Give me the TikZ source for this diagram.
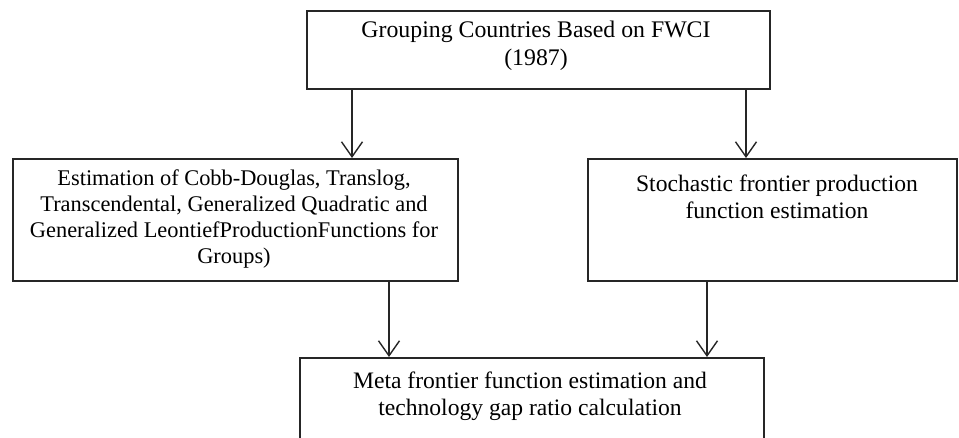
\documentclass[tikz,border=0pt]{standalone}
\usepackage{fontspec}
\setmainfont{Liberation Serif}
\usetikzlibrary{arrows.meta}
\begin{document}
\begin{tikzpicture}[x=1pt,y=-1pt,
  box/.style={draw=black!85,line width=1.6pt,rectangle,inner sep=0pt,anchor=north west},
  caption/.style={align=center,inner sep=0pt,anchor=base,text=black},
  flow/.style={draw=black!85,line width=1.4pt,-{Straight Barb[length=15pt,width=21pt,line width=1.4pt]}}]
\clip (0,0) rectangle (959,438);

% boxes
\node[box,minimum width=463pt,minimum height=78pt]  (group) at (306,10)  {};
\node[box,minimum width=445pt,minimum height=122pt] (estim) at (12,158)  {};
\node[box,minimum width=369pt,minimum height=122pt] (sfa)   at (587,158) {};
\node[box,minimum width=464pt,minimum height=110pt] (meta)  at (299,357) {};

% box texts (each placed at the baseline of its last line)
\node[caption,font=\fontsize{23.8}{28}\selectfont] (grouptxt) at (536,66)
  {Grouping Countries Based on FWCI\\(1987)};
\node[caption,font=\fontsize{22.4}{26}\selectfont] (estimtxt) at (234,264)
  {Estimation of Cobb-Douglas, Translog,\\Transcendental, Generalized Quadratic and\\Generalized LeontiefProductionFunctions for\\Groups)};
\node[caption,font=\fontsize{23.6}{27}\selectfont] (sfatxt) at (777,219)
  {Stochastic frontier production\\function estimation};
\node[caption,font=\fontsize{23.6}{27}\selectfont] (metatxt) at (530,415)
  {Meta frontier function estimation and\\technology gap ratio calculation};

% connectors
\coordinate (c1) at (352,0);
\coordinate (c2) at (746,0);
\coordinate (c3) at (389,0);
\coordinate (c4) at (707,0);
\draw[flow] (c1 |- group.south) -- (c1 |- estim.north);
\draw[flow] (c2 |- group.south) -- (c2 |- sfa.north);
\draw[flow] (c3 |- estim.south) -- (c3 |- meta.north);
\draw[flow] (c4 |- sfa.south)   -- (c4 |- meta.north);
\end{tikzpicture}
\end{document}
